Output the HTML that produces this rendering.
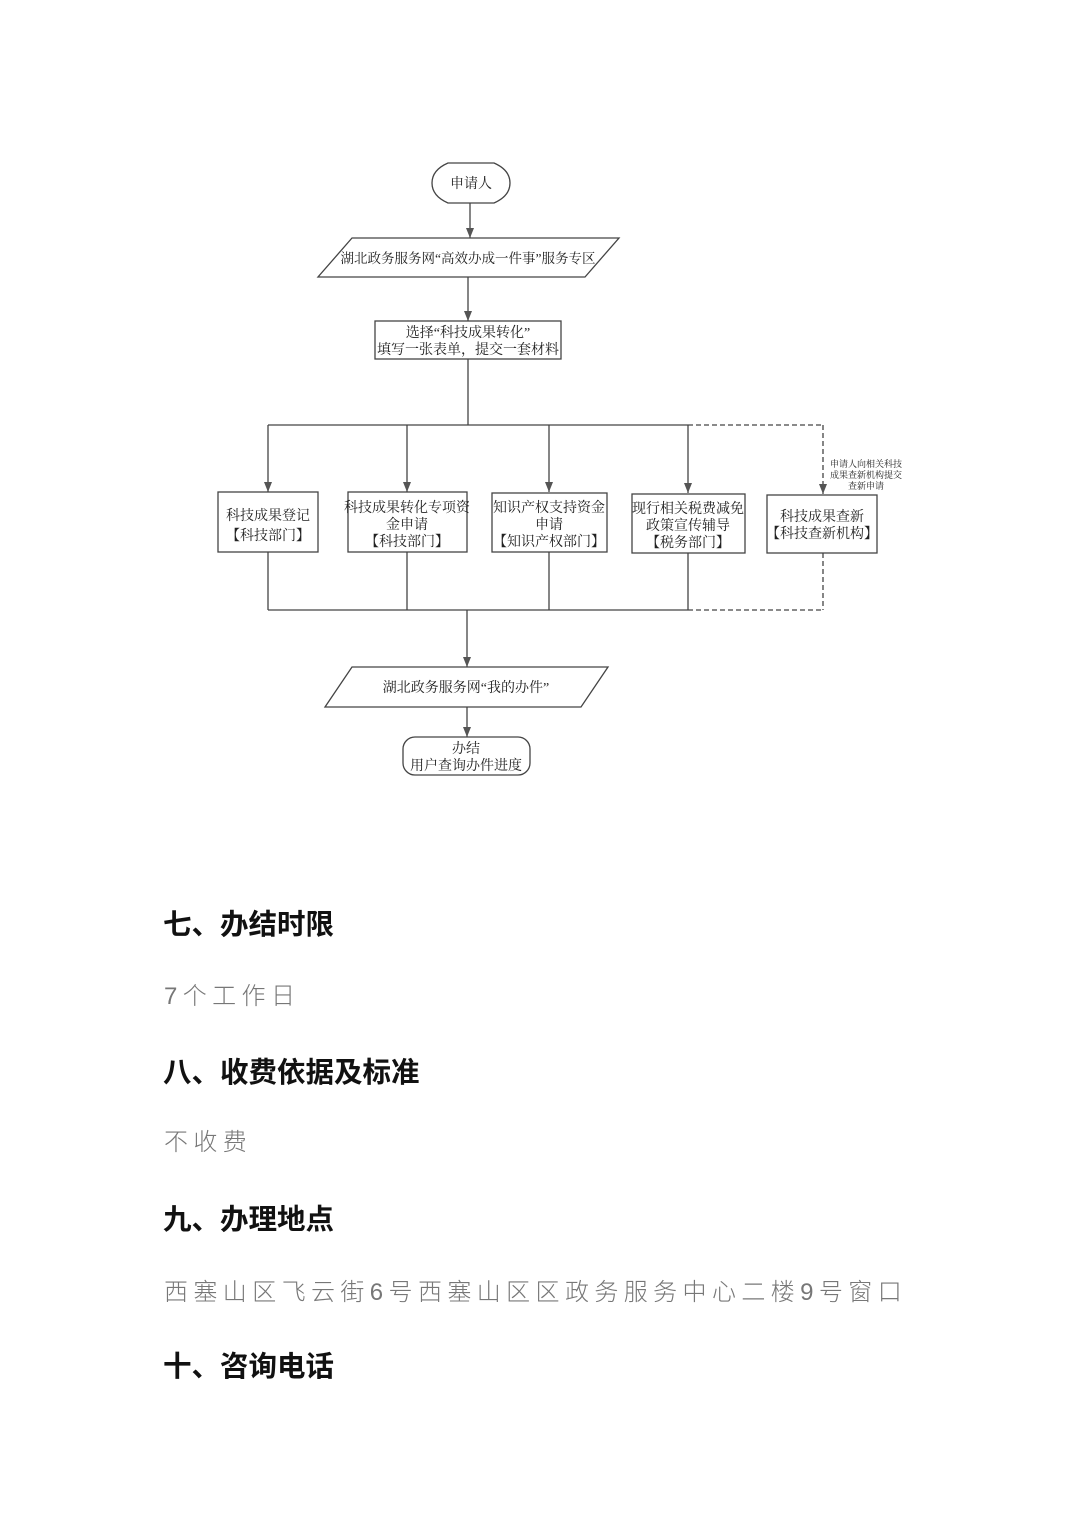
<!DOCTYPE html>
<html><head><meta charset="utf-8"><style>
body{margin:0;width:1074px;height:1520px;background:#fff;position:relative;overflow:hidden;font-family:"Liberation Serif","Noto Serif CJK SC",serif}
.h{position:absolute;left:163px;font-family:"Liberation Sans","Noto Sans CJK SC",sans-serif;font-weight:bold;font-size:28.5px;color:#111;line-height:1}
.t{position:absolute;left:164px;font-family:"Liberation Sans","Noto Sans CJK SC",sans-serif;font-weight:300;font-size:24px;color:#777;letter-spacing:5.4px;line-height:1}
svg text{font-family:"Liberation Serif","Noto Serif CJK SC",serif;font-size:14px;fill:#222;text-anchor:middle}
</style></head><body>
<svg width="1074" height="900" style="position:absolute;left:0;top:0">
<defs>
<marker id="b" viewBox="0 0 8 10" markerWidth="8" markerHeight="10" refX="4" refY="10" orient="0" markerUnits="userSpaceOnUse"><path d="M0,0 L8,0 L4,10 z" fill="#555"/></marker></defs>
<g stroke="#444" stroke-width="1.3" fill="none">
<path d="M448,163 L494,163 Q510,170 510,183 Q510,196 494,203 L448,203 Q432,196 432,183 Q432,170 448,163 Z"/>
<line x1="470" y1="203" x2="470" y2="238" marker-end="url(#b)"/>
<polygon points="352,238 619,238 585,277 318,277"/>
<line x1="468" y1="277" x2="468" y2="321" marker-end="url(#b)"/>
<rect x="375" y="321" width="186" height="38"/>
<line x1="468" y1="359" x2="468" y2="425"/>
<line x1="268" y1="425" x2="688" y2="425"/>
<line x1="688" y1="425" x2="823" y2="425" stroke-dasharray="5,3"/>
<line x1="268" y1="425" x2="268" y2="492" marker-end="url(#b)"/>
<line x1="407" y1="425" x2="407" y2="492" marker-end="url(#b)"/>
<line x1="549" y1="425" x2="549" y2="492" marker-end="url(#b)"/>
<line x1="688" y1="425" x2="688" y2="493" marker-end="url(#b)"/>
<line x1="823" y1="425" x2="823" y2="494" stroke-dasharray="5,3" marker-end="url(#b)"/>
<rect x="218" y="492" width="100" height="60"/>
<rect x="348" y="492" width="119" height="60"/>
<rect x="492" y="493" width="115" height="59"/>
<rect x="632" y="494" width="113" height="59"/>
<rect x="767" y="495" width="110" height="58"/>
<line x1="268" y1="552" x2="268" y2="610"/>
<line x1="407" y1="552" x2="407" y2="610"/>
<line x1="549" y1="552" x2="549" y2="610"/>
<line x1="688" y1="553" x2="688" y2="610"/>
<line x1="268" y1="610" x2="688" y2="610"/>
<line x1="823" y1="553" x2="823" y2="610" stroke-dasharray="5,3"/>
<line x1="688" y1="610" x2="823" y2="610" stroke-dasharray="5,3"/>
<line x1="467" y1="610" x2="467" y2="667" marker-end="url(#b)"/>
<polygon points="352,667 608,667 581,707 325,707"/>
<line x1="467" y1="707" x2="467" y2="737" marker-end="url(#b)"/>
<rect x="403" y="737" width="127" height="38" rx="12"/>
</g>
<text x="471" y="188">申请人</text>
<text x="468" y="263" style="font-size:13.5px">湖北政务服务网“高效办成一件事”服务专区</text>
<text x="468" y="337">选择“科技成果转化”</text>
<text x="468" y="354">填写一张表单，提交一套材料</text>
<text x="268" y="520">科技成果登记</text><text x="268" y="540">【科技部门】</text>
<text x="407" y="512">科技成果转化专项资</text><text x="407" y="529">金申请</text><text x="407" y="546">【科技部门】</text>
<text x="549" y="512">知识产权支持资金</text><text x="549" y="529">申请</text><text x="549" y="546">【知识产权部门】</text>
<text x="688" y="513">现行相关税费减免</text><text x="688" y="530">政策宣传辅导</text><text x="688" y="547">【税务部门】</text>
<text x="822" y="521">科技成果查新</text><text x="822" y="538">【科技查新机构】</text>
<text x="866" y="467" style="font-size:9px">申请人向相关科技</text><text x="866" y="478" style="font-size:9px">成果查新机构提交</text><text x="866" y="489" style="font-size:9px">查新申请</text>
<text x="466" y="692">湖北政务服务网“我的办件”</text>
<text x="466" y="753">办结</text><text x="466" y="770">用户查询办件进度</text>
</svg>
<div class="h" style="top:911px">七、办结时限</div>
<div class="t" style="top:985px">7个工作日</div>
<div class="h" style="top:1059px">八、收费依据及标准</div>
<div class="t" style="top:1131px">不收费</div>
<div class="h" style="top:1206px">九、办理地点</div>
<div class="t" style="top:1281px">西塞山区飞云街6号西塞山区区政务服务中心二楼9号窗口</div>
<div class="h" style="top:1353px">十、咨询电话</div>
</body></html>
